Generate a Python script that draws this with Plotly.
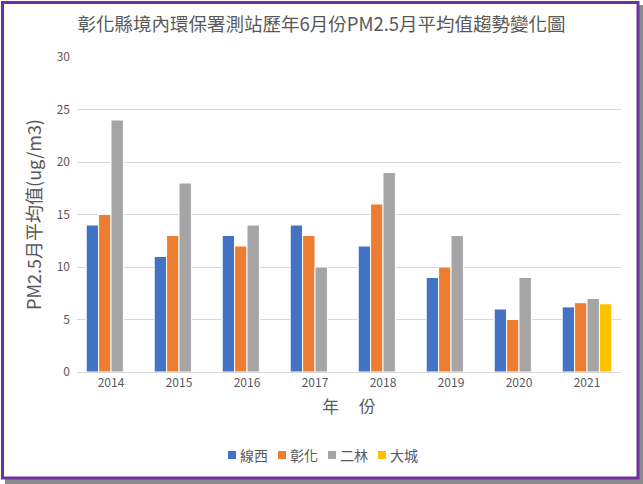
import plotly.graph_objects as go

years = ["2014", "2015", "2016", "2017", "2018", "2019", "2020", "2021"]
xianxi = [14, 11, 13, 14, 12, 9, 6, 6.2]
changhua = [15, 13, 12, 13, 16, 10, 5, 6.6]
erlin = [24, 18, 14, 10, 19, 13, 9, 7.0]
dacheng = [None, None, None, None, None, None, None, 6.5]

series_names = ["線西", "彰化", "二林", "大城"]
colors = ["#4472C4", "#ED7D31", "#A5A5A5", "#FFC000"]

W, H = 643, 484
L, R, T, B = 77, 22, 57, 112
pw, ph = W - L - R, H - T - B

def px(x):
    return (x - L) / pw

def py(y):
    return (H - B - y) / ph

fig = go.Figure()
for name, vals, c in zip(series_names, [xianxi, changhua, erlin, dacheng], colors):
    fig.add_trace(go.Bar(x=years, y=vals, name=name,
                         marker=dict(color=c, line=dict(color="white", width=1))))

font_family = "Noto Sans CJK TC, Noto Sans CJK SC, sans-serif"
fig.update_layout(
    width=W, height=H,
    margin=dict(l=L, r=R, t=T, b=B),
    paper_bgcolor="white",
    plot_bgcolor="rgba(0,0,0,0)",
    barmode="group",
    bargap=0.27,
    bargroupgap=0.0,
    font=dict(family=font_family, color="#595959"),
    title=dict(text="彰化縣境內環保署測站歷年6月份PM2.5月平均值趨勢變化圖", x=0.5, xanchor="center",
               y=1 - 25 / H, yanchor="middle", font=dict(size=18.5, color="#595959")),
    xaxis=dict(showgrid=False, showline=True, linecolor="#D9D9D9", linewidth=1, ticks="",
               tickfont=dict(size=12, color="#595959"),
               title=dict(text="年　 份", font=dict(size=16.5, color="#595959"), standoff=12)),
    yaxis=dict(range=[0, 30], dtick=5, showgrid=True, gridcolor="#D9D9D9", gridwidth=1, zeroline=False,
               showline=False, ticks="", tickfont=dict(size=12, color="#595959"), ticklabelstandoff=6,
               title=dict(text="PM2.5月平均值(ug/m3)", font=dict(size=18, color="#595959"), standoff=10)),
    showlegend=False,
)

# compact legend drawn as annotations (square marker + label)
legend_x0 = 228
legend_step = 50
legend_y = 455
for i, (name, c) in enumerate(zip(series_names, colors)):
    sx = legend_x0 + i * legend_step
    fig.add_shape(type="rect", xref="paper", yref="paper",
                  x0=px(sx), x1=px(sx + 8), y0=py(legend_y + 4), y1=py(legend_y - 4),
                  fillcolor=c, line=dict(width=0))
    fig.add_annotation(text=name, xref="paper", yref="paper", x=px(sx + 10), y=py(legend_y),
                       xanchor="left", yanchor="middle", showarrow=False,
                       font=dict(size=14, color="#595959"))

# shadow and purple frame
fig.add_shape(type="rect", xref="paper", yref="paper", layer="below",
              x0=px(5), x1=px(643), y0=py(5), y1=py(484),
              fillcolor="#8C8C8C", line=dict(width=0))
fig.add_shape(type="rect", xref="paper", yref="paper", layer="below",
              x0=px(2.5), x1=px(638), y0=py(2.5), y1=py(478),
              fillcolor="white", line=dict(color="#7030A0", width=3))

fig.write_html("out.html", config={"displayModeBar": False},
               post_script="document.body.style.margin='0';document.body.style.padding='0';")
